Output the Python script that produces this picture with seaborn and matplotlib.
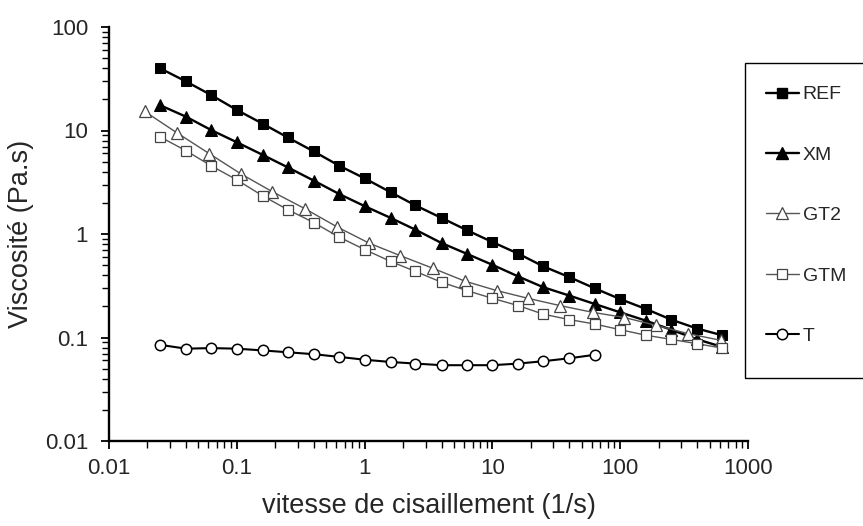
import numpy as np
import pandas as pd
import seaborn as sns
import matplotlib.pyplot as plt
from matplotlib.patches import Rectangle
from matplotlib.lines import Line2D

# shear rates (1/s), 5 points per decade
shear = [0.025, 0.04, 0.063, 0.1, 0.16, 0.25, 0.4, 0.63, 1, 1.6, 2.5, 4, 6.3,
         10, 16, 25, 40, 63, 100, 160, 250, 400, 630]
# GT2 was measured with 4 points per decade
shear_gt2 = [0.019, 0.034, 0.061, 0.108, 0.19, 0.34, 0.61, 1.08, 1.9, 3.4, 6.1,
             10.8, 19, 34, 61, 108, 190, 340, 610]

ref = [40.0, 29.8, 22.0, 15.8, 11.6, 8.57, 6.28, 4.58, 3.45, 2.53, 1.89, 1.43,
       1.09, 0.836, 0.644, 0.487, 0.383, 0.299, 0.235, 0.188, 0.149, 0.122, 0.105]
xm = [17.6, 13.6, 10.1, 7.70, 5.80, 4.41, 3.28, 2.44, 1.86, 1.43, 1.10, 0.818,
      0.644, 0.504, 0.388, 0.306, 0.254, 0.211, 0.175, 0.145, 0.119, 0.096, 0.081]
gt2 = [15.3, 9.5, 5.97, 3.80, 2.56, 1.76, 1.17, 0.818, 0.618, 0.468, 0.350,
       0.284, 0.239, 0.203, 0.175, 0.156, 0.131, 0.109, 0.094]
gtm = [8.70, 6.38, 4.56, 3.34, 2.33, 1.72, 1.29, 0.935, 0.708, 0.543, 0.435,
       0.342, 0.284, 0.239, 0.203, 0.168, 0.149, 0.135, 0.119, 0.105, 0.096,
       0.087, 0.079]
t = [0.085, 0.078, 0.079, 0.078, 0.075, 0.072, 0.069, 0.065, 0.061, 0.058,
     0.056, 0.054, 0.054, 0.054, 0.056, 0.059, 0.063, 0.068]

ticks = [0.01, 0.1, 1, 10, 100, 1000]
tick_labels = ['0.01', '0.1', '1', '10', '100', '1000']

sns.set_style('ticks')
plt.rcParams['font.family'] = ['Liberation Sans', 'DejaVu Sans']

fig = plt.figure(figsize=(8.63, 5.26), dpi=100)
ax = fig.add_axes([109/863, 1 - 441/526, 639/863, 414/526])

styles = [
    ('REF', shear, ref, dict(marker='s', color='black', markerfacecolor='black',
                             markeredgecolor='black', markersize=7, linewidth=1.7)),
    ('XM', shear, xm, dict(marker='^', color='black', markerfacecolor='black',
                           markeredgecolor='black', markersize=8, linewidth=1.7)),
    ('GT2', shear_gt2, gt2, dict(marker='^', color='#555555', markerfacecolor='white',
                                 markeredgecolor='#444444', markersize=8.5,
                                 markeredgewidth=0.9, linewidth=1.0)),
    ('GTM', shear, gtm, dict(marker='s', color='#555555', markerfacecolor='white',
                             markeredgecolor='#444444', markersize=7.5,
                             markeredgewidth=0.9, linewidth=1.0)),
    ('T', shear[:len(t)], t, dict(marker='o', color='black', markerfacecolor='white',
                                  markeredgecolor='black', markersize=7.5,
                                  markeredgewidth=1.1, linewidth=1.5)),
]

handles = []
for name, xs, ys, kw in styles:
    df = pd.DataFrame({'x': xs, 'y': ys})
    sns.lineplot(data=df, x='x', y='y', ax=ax, estimator=None, sort=False,
                 legend=False, **kw)
    handles.append(Line2D([], [], label=name, **kw))

ax.set_xscale('log')
ax.set_yscale('log')
ax.set_xlim(0.01, 1000)
ax.set_ylim(0.01, 100)
ax.set_xticks(ticks, tick_labels)
ax.set_yticks(ticks[:-1], tick_labels[:-1])
ax.tick_params(which='major', direction='out', length=6, width=1.3,
               labelsize=16, color='black')
ax.tick_params(axis='y', which='major', pad=9)
ax.tick_params(axis='x', which='major', pad=6)
ax.tick_params(which='minor', direction='out', length=5, width=1.0, color='black')
for side in ['top', 'right']:
    ax.spines[side].set_visible(False)
for side in ['left', 'bottom']:
    ax.spines[side].set_linewidth(1.7)
    ax.spines[side].set_color('black')

ax.set_xlabel('vitesse de cisaillement (1/s)', fontsize=19.5, labelpad=10)
ax.set_ylabel('Viscosité (Pa.s)', fontsize=19.5, labelpad=8)

# legend box runs past the right edge of the figure
fig.patches.append(Rectangle((745/863, 1 - 378/526), 0.3, 315/526,
                             transform=fig.transFigure, fill=False,
                             edgecolor='black', linewidth=1.0))
fig.legend(handles=handles, loc='upper left',
           bbox_to_anchor=(756/863, 1 - 76/526), frameon=False,
           fontsize=14, handlelength=1.7, handletextpad=0.2,
           labelspacing=2.2, borderpad=0)

fig.savefig('out.png', dpi=100)
